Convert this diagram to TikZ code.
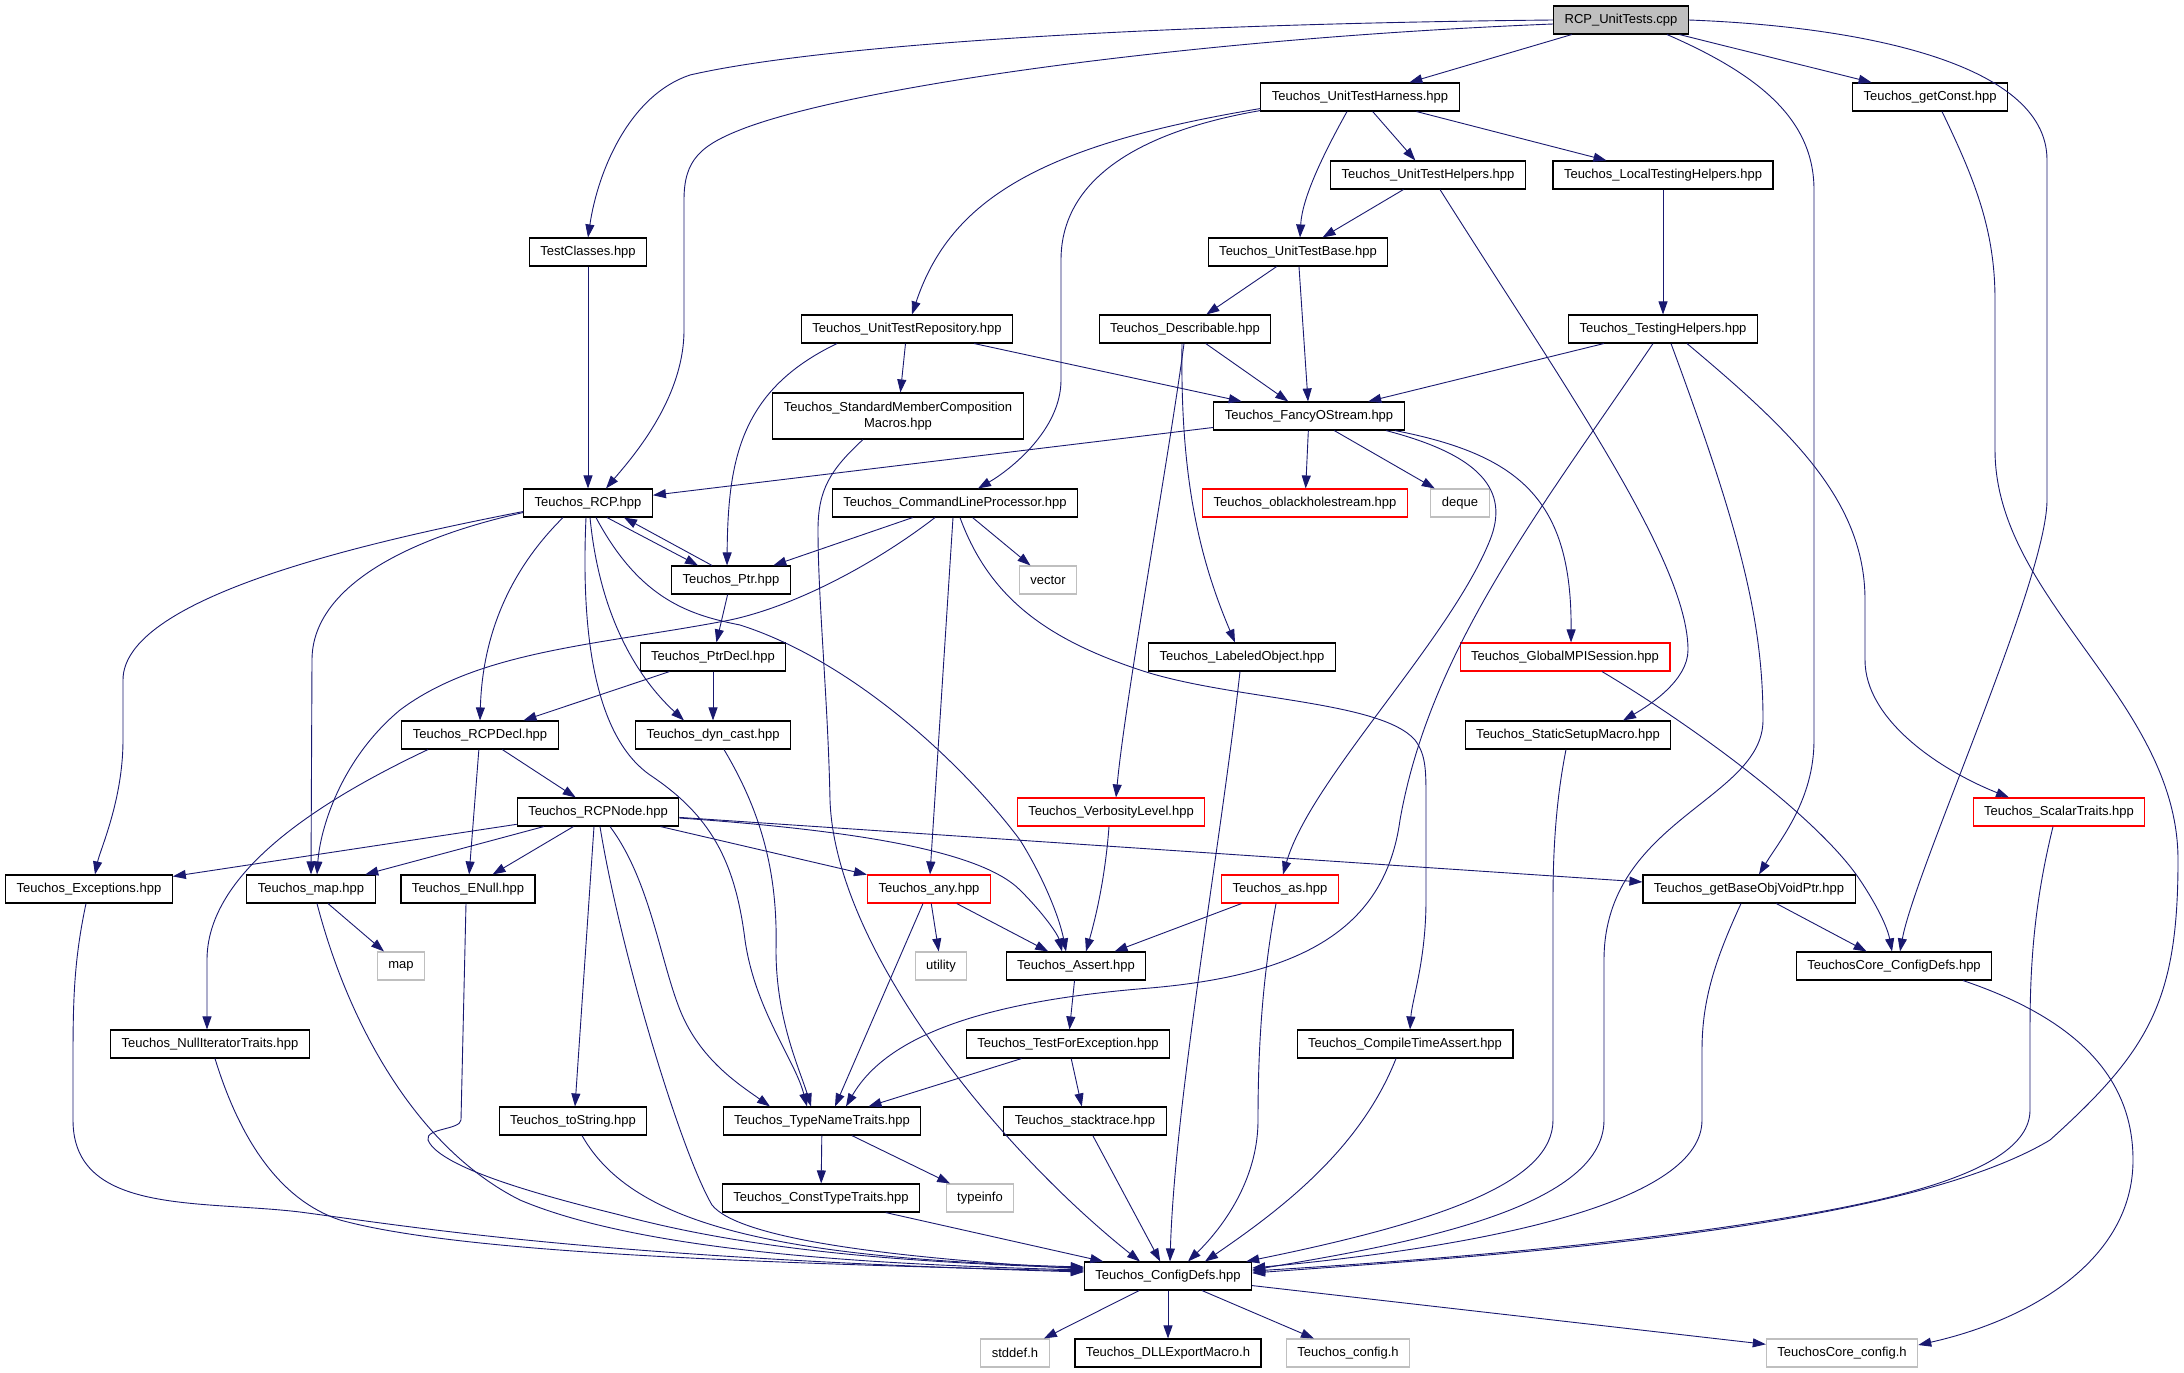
\documentclass[tikz,border=0pt]{standalone}
\usepackage{fontspec}
\setmainfont{Liberation Sans}
\usepackage{tikz}
\usetikzlibrary{arrows.meta}
\usepackage{xcolor}
\definecolor{depblue}{HTML}{191970}
\definecolor{filered}{HTML}{FF0000}
\definecolor{filegray}{HTML}{BFBFBF}
\tikzset{>={Triangle[length=13pt,width=9pt]}}
\tikzset{
  file/.style={draw=black, line width=1.1pt, fill=white, minimum height=28pt, inner xsep=11pt, inner ysep=0pt, font=\fontsize{13pt}{16pt}\selectfont},
  redfile/.style={file, draw=filered},
  sysfile/.style={file, draw=filegray},
  dep/.style={->, draw=depblue, line width=0.9pt}
}

\begin{document}
\begin{tikzpicture}[x=1pt, y=-1pt]
\fill[white] (0,0) rectangle (2184,1373);
\useasboundingbox (0,0) rectangle (2184,1373);
% files
\node[file, fill=filegray] (rcptests) at (1621,20) {RCP\_UnitTests.cpp};
\node[file] (harness) at (1360,97) {Teuchos\_UnitTestHarness.hpp};
\node[file] (getconst) at (1930,97) {Teuchos\_getConst.hpp};
\node[file] (uthelpers) at (1428,175) {Teuchos\_UnitTestHelpers.hpp};
\node[file] (localhelpers) at (1663,175) {Teuchos\_LocalTestingHelpers.hpp};
\node[file] (testclasses) at (588,252) {TestClasses.hpp};
\node[file] (utbase) at (1298,252) {Teuchos\_UnitTestBase.hpp};
\node[file] (utrepo) at (907,329) {Teuchos\_UnitTestRepository.hpp};
\node[file] (describable) at (1185,329) {Teuchos\_Describable.hpp};
\node[file] (testhelpers) at (1663,329) {Teuchos\_TestingHelpers.hpp};
\node[file, align=center, minimum height=46pt] (stdmember) at (898,416) {Teuchos\_StandardMemberComposition\\Macros.hpp};
\node[file] (fancy) at (1309,416) {Teuchos\_FancyOStream.hpp};
\node[file] (rcp) at (588,503) {Teuchos\_RCP.hpp};
\node[file] (clp) at (955,503) {Teuchos\_CommandLineProcessor.hpp};
\node[redfile] (blackhole) at (1305,503) {Teuchos\_oblackholestream.hpp};
\node[sysfile] (deque) at (1460,503) {deque};
\node[file] (ptr) at (731,580) {Teuchos\_Ptr.hpp};
\node[sysfile] (vector) at (1048,580) {vector};
\node[file] (ptrdecl) at (713,657) {Teuchos\_PtrDecl.hpp};
\node[file] (labeled) at (1242,657) {Teuchos\_LabeledObject.hpp};
\node[redfile] (mpisession) at (1565,657) {Teuchos\_GlobalMPISession.hpp};
\node[file] (rcpdecl) at (480,735) {Teuchos\_RCPDecl.hpp};
\node[file] (dyncast) at (713,735) {Teuchos\_dyn\_cast.hpp};
\node[file] (staticsetup) at (1568,735) {Teuchos\_StaticSetupMacro.hpp};
\node[file] (rcpnode) at (598,812) {Teuchos\_RCPNode.hpp};
\node[redfile] (verbosity) at (1111,812) {Teuchos\_VerbosityLevel.hpp};
\node[redfile] (scalar) at (2059,812) {Teuchos\_ScalarTraits.hpp};
\node[file] (exceptions) at (89,889) {Teuchos\_Exceptions.hpp};
\node[file] (maphpp) at (311,889) {Teuchos\_map.hpp};
\node[file] (enull) at (468,889) {Teuchos\_ENull.hpp};
\node[redfile] (any) at (929,889) {Teuchos\_any.hpp};
\node[redfile] (as) at (1280,889) {Teuchos\_as.hpp};
\node[file] (baseobj) at (1749,889) {Teuchos\_getBaseObjVoidPtr.hpp};
\node[sysfile] (map) at (401,966) {map};
\node[sysfile] (utility) at (941,966) {utility};
\node[file] (assert) at (1076,966) {Teuchos\_Assert.hpp};
\node[file] (coredefs) at (1894,966) {TeuchosCore\_ConfigDefs.hpp};
\node[file] (nulliter) at (210,1044) {Teuchos\_NullIteratorTraits.hpp};
\node[file] (testforexc) at (1068,1044) {Teuchos\_TestForException.hpp};
\node[file] (compiletime) at (1405,1044) {Teuchos\_CompileTimeAssert.hpp};
\node[file] (tostring) at (573,1121) {Teuchos\_toString.hpp};
\node[file] (typename) at (822,1121) {Teuchos\_TypeNameTraits.hpp};
\node[file] (stacktrace) at (1085,1121) {Teuchos\_stacktrace.hpp};
\node[file] (consttype) at (821,1198) {Teuchos\_ConstTypeTraits.hpp};
\node[sysfile] (typeinfo) at (980,1198) {typeinfo};
\node[file] (configdefs) at (1168,1276) {Teuchos\_ConfigDefs.hpp};
\node[sysfile] (stddef) at (1015,1353) {stddef.h};
\node[file] (dllexport) at (1168,1353) {Teuchos\_DLLExportMacro.h};
\node[sysfile] (config) at (1348,1353) {Teuchos\_config.h};
\node[sysfile] (coreconfig) at (1842,1353) {TeuchosCore\_config.h};
% includes
\draw[dep] (rcptests.west) .. controls (1150,24) and (820,45) .. (690,75) .. controls (630,95) and (598,170) .. (testclasses.north);
\draw[dep] ([yshift=-4pt]rcptests.west) .. controls (1200,38) and (860,85) .. (745,128) .. controls (700,145) and (684,160) .. (684,200) -- (684,330) .. controls (684,400) and (630,460) .. ([xshift=18pt]rcp.north);
\draw[dep] (rcptests) -- (harness);
\draw[dep] (rcptests) -- (getconst);
\draw[dep] ([xshift=46pt]rcptests.south) .. controls (1760,75) and (1814,120) .. (1814,190) -- (1814,740) .. controls (1814,800) and (1780,840) .. ([xshift=10pt]baseobj.north);
\draw[dep] (rcptests.east) .. controls (1850,26) and (2047,60) .. (2047,160) -- (2047,500) .. controls (2047,580) and (1915,870) .. ([xshift=6pt]coredefs.north);
\draw[dep] ([yshift=3pt]harness.south west) .. controls (1040,145) and (950,200) .. ([xshift=5pt]utrepo.north);
\draw[dep] ([yshift=1pt]harness.south west) .. controls (1120,135) and (1061,190) .. (1061,260) -- (1061,380) .. controls (1061,430) and (1010,470) .. ([xshift=23pt]clp.north);
\draw[dep] ([xshift=-13pt]harness.south) .. controls (1320,160) and (1302,200) .. ([xshift=2pt]utbase.north);
\draw[dep] (harness) -- (uthelpers);
\draw[dep] (harness) -- (localhelpers);
\draw[dep] (uthelpers) -- (utbase);
\draw[dep] ([xshift=12pt]uthelpers.south) .. controls (1560,380) and (1688,560) .. (1688,650) .. controls (1688,680) and (1650,705) .. ([xshift=55pt]staticsetup.north);
\draw[dep] (localhelpers) -- (testhelpers);
\draw[dep] (utbase) -- (describable);
\draw[dep] (utbase) -- (fancy);
\draw[dep] (utrepo) -- (stdmember);
\draw[dep] (utrepo) -- (fancy);
\draw[dep] ([xshift=-70pt]utrepo.south) .. controls (740,390) and (728,460) .. ([xshift=-4pt]ptr.north);
\draw[dep] (describable) -- (fancy);
\draw[dep] ([xshift=-3pt]describable.south) .. controls (1180,480) and (1200,560) .. ([xshift=-7pt]labeled.north);
\draw[dep] ([xshift=-1pt]describable.south) .. controls (1170,450) and (1125,700) .. ([xshift=5pt]verbosity.north);
\draw[dep] (testhelpers) -- (fancy);
\draw[dep] ([xshift=-10pt]testhelpers.south) .. controls (1540,510) and (1430,650) .. (1400,820) .. controls (1385,930) and (1300,975) .. (1150,988) .. controls (1000,1000) and (890,1030) .. ([xshift=24pt]typename.north);
\draw[dep] ([xshift=8pt]testhelpers.south) .. controls (1740,530) and (1763,620) .. (1763,720) .. controls (1763,800) and (1604,820) .. (1604,960) -- (1604,1120) .. controls (1604,1210) and (1400,1245) .. ([yshift=6pt]configdefs.east);
\draw[dep] ([xshift=24pt]testhelpers.south) .. controls (1790,430) and (1865,500) .. (1865,600) -- (1865,660) .. controls (1865,720) and (1940,770) .. ([xshift=-50pt]scalar.north);
\draw[dep] (fancy) -- (rcp);
\draw[dep] (fancy) -- (blackhole);
\draw[dep] (fancy) -- (deque);
\draw[dep] ([xshift=77pt]fancy.south) .. controls (1480,455) and (1510,490) .. (1490,540) .. controls (1450,640) and (1310,780) .. ([xshift=3pt]as.north);
\draw[dep] ([xshift=86pt]fancy.south) .. controls (1520,455) and (1572,500) .. ([xshift=6pt]mpisession.north);
\draw[dep] ([xshift=19pt]rcp.south) -- ([xshift=-33pt]ptr.north);
\draw[dep] ([xshift=-19pt]ptr.north) -- ([xshift=36pt]rcp.south);
\draw[dep] ([yshift=6pt]rcp.south west) .. controls (350,545) and (123,600) .. (123,680) -- (123,740) .. controls (123,800) and (100,850) .. ([xshift=6pt]exceptions.north);
\draw[dep] ([yshift=5pt]rcp.south west) .. controls (400,540) and (312,590) .. (312,660) -- (maphpp.north);
\draw[dep] ([xshift=-25pt]rcp.south) .. controls (500,580) and (482,650) .. (rcpdecl.north);
\draw[dep] ([xshift=-2pt]rcp.south) .. controls (580,650) and (600,740) .. (650,775) .. controls (710,815) and (735,860) .. (745,940) .. controls (755,1010) and (795,1060) .. ([xshift=-15pt]typename.north);
\draw[dep] ([xshift=2pt]rcp.south) .. controls (600,620) and (640,680) .. ([xshift=-29pt]dyncast.north);
\draw[dep] ([xshift=8pt]rcp.south) .. controls (640,600) and (690,615) .. (740,625) .. controls (850,660) and (960,760) .. (1020,840) .. controls (1045,880) and (1060,920) .. ([xshift=-10pt]assert.north);
\draw[dep] (clp) -- (ptr);
\draw[dep] ([xshift=-20pt]clp.south) .. controls (880,560) and (800,605) .. (730,620) .. controls (600,645) and (480,650) .. (400,710) .. controls (340,760) and (320,830) .. ([xshift=6pt]maphpp.north);
\draw[dep] ([xshift=-2pt]clp.south) -- ([xshift=1pt]any.north);
\draw[dep] (clp) -- (vector);
\draw[dep] ([xshift=5pt]clp.south) .. controls (990,600) and (1050,640) .. (1140,670) .. controls (1230,700) and (1380,700) .. (1415,740) .. controls (1426,755) and (1426,770) .. (1426,800) -- (1426,900) .. controls (1426,960) and (1412,1000) .. ([xshift=5pt]compiletime.north);
\draw[dep] (ptr) -- (ptrdecl);
\draw[dep] (ptrdecl) -- (rcpdecl);
\draw[dep] (ptrdecl) -- (dyncast);
\draw[dep] (rcpdecl) -- (enull);
\draw[dep] (rcpdecl) -- (rcpnode);
\draw[dep] ([xshift=-52pt]rcpdecl.south) .. controls (300,810) and (207,880) .. (207,960) -- ([xshift=-3pt]nulliter.north);
\draw[dep] ([xshift=11pt]dyncast.south) .. controls (760,810) and (778,870) .. (776,950) .. controls (776,1020) and (800,1070) .. ([xshift=-11pt]typename.north);
\draw[dep] (rcpnode) -- (exceptions);
\draw[dep] (rcpnode) -- (maphpp);
\draw[dep] (rcpnode) -- (enull);
\draw[dep] (rcpnode) -- (any);
\draw[dep] (rcpnode) -- (baseobj);
\draw[dep] ([yshift=-6pt]rcpnode.east) .. controls (850,830) and (980,850) .. (1020,890) .. controls (1045,915) and (1058,935) .. ([xshift=-14pt]assert.north);
\draw[dep] ([xshift=-4pt]rcpnode.south) -- ([xshift=2pt]tostring.north);
\draw[dep] ([xshift=2pt]rcpnode.south) .. controls (620,950) and (680,1150) .. (712,1205) .. controls (740,1240) and (900,1258) .. ([yshift=7pt]configdefs.west);
\draw[dep] ([xshift=12pt]rcpnode.south) .. controls (650,880) and (660,960) .. (680,1010) .. controls (700,1060) and (740,1085) .. ([xshift=-52pt]typename.north);
\draw[dep] ([xshift=-3pt]exceptions.south) .. controls (74,960) and (73,1000) .. (73,1060) -- (73,1120) .. controls (73,1215) and (200,1200) .. (300,1212) .. controls (420,1228) and (600,1258) .. ([yshift=4pt]configdefs.west);
\draw[dep] ([xshift=5pt]nulliter.south) .. controls (240,1140) and (280,1200) .. (340,1220) .. controls (450,1250) and (700,1262) .. ([yshift=5pt]configdefs.west);
\draw[dep] (maphpp) -- (map);
\draw[dep] ([xshift=6pt]maphpp.south) .. controls (350,1030) and (420,1150) .. (520,1200) .. controls (650,1255) and (900,1265) .. ([yshift=6pt]configdefs.west);
\draw[dep] ([xshift=-2pt]enull.south) -- (461,1120) .. controls (460,1130) and (425,1128) .. (428,1140) .. controls (440,1170) and (560,1200) .. (620,1215) .. controls (750,1250) and (900,1262) .. ([yshift=8pt]configdefs.west);
\draw[dep] ([xshift=9pt]tostring.south) .. controls (630,1220) and (760,1258) .. ([yshift=9pt]configdefs.west);
\draw[dep] (any) -- (utility);
\draw[dep] (any) -- (assert);
\draw[dep] ([xshift=-6pt]any.south) -- ([xshift=13pt]typename.north);
\draw[dep] (as) -- (assert);
\draw[dep] ([xshift=-4pt]as.south) .. controls (1262,980) and (1258,1050) .. (1258,1120) .. controls (1258,1190) and (1210,1240) .. ([xshift=20pt]configdefs.north);
\draw[dep] ([xshift=-2pt]verbosity.south) .. controls (1105,880) and (1095,920) .. ([xshift=10pt]assert.north);
\draw[dep] ([xshift=-2pt]labeled.south) .. controls (1220,850) and (1175,1100) .. ([xshift=2pt]configdefs.north);
\draw[dep] ([xshift=-35pt]stdmember.south) .. controls (830,470) and (818,490) .. (818,530) .. controls (818,600) and (828,700) .. (830,800) .. controls (835,950) and (1000,1150) .. ([xshift=-28pt]configdefs.north);
\draw[dep] (assert) -- (testforexc);
\draw[dep] (testforexc) -- (typename);
\draw[dep] (testforexc) -- (stacktrace);
\draw[dep] (stacktrace) -- (configdefs);
\draw[dep] ([xshift=-9pt]compiletime.south) .. controls (1360,1150) and (1280,1210) .. ([xshift=37pt]configdefs.north);
\draw[dep] (typename) -- (consttype);
\draw[dep] (typename) -- (typeinfo);
\draw[dep] (consttype) -- (configdefs);
\draw[dep] ([xshift=-8pt]baseobj.south) .. controls (1715,960) and (1702,1000) .. (1702,1050) -- (1702,1120) .. controls (1702,1200) and (1500,1245) .. ([yshift=8pt]configdefs.east);
\draw[dep] (baseobj) -- (coredefs);
\draw[dep] ([xshift=-6pt]scalar.south) .. controls (2035,900) and (2030,960) .. (2030,1030) -- (2030,1110) .. controls (2030,1180) and (1850,1210) .. (1690,1232) .. controls (1550,1250) and (1400,1262) .. ([yshift=5pt]configdefs.east);
\draw[dep] ([xshift=-2pt]staticsetup.south) .. controls (1556,800) and (1553,850) .. (1553,900) -- (1553,1120) .. controls (1553,1180) and (1450,1220) .. ([xshift=-6pt]configdefs.north east);
\draw[dep] ([xshift=12pt]getconst.south) .. controls (1975,180) and (1995,230) .. (1995,300) -- (1995,450) .. controls (1995,600) and (2178,700) .. (2178,860) .. controls (2178,1000) and (2150,1050) .. (2050,1140) .. controls (1900,1230) and (1500,1255) .. ([yshift=3pt]configdefs.east);
\draw[dep] (configdefs) -- (stddef);
\draw[dep] (configdefs) -- (dllexport);
\draw[dep] (configdefs) -- (config);
\draw[dep] (configdefs) -- (coreconfig);
\draw[dep] ([xshift=69pt]coredefs.south) .. controls (2080,1020) and (2133,1080) .. (2133,1160) .. controls (2133,1260) and (2030,1320) .. ([yshift=8pt]coreconfig.east);
\draw[dep] ([xshift=37pt]mpisession.south) .. controls (1700,730) and (1820,820) .. (1860,880) .. controls (1880,910) and (1888,930) .. ([xshift=-2pt]coredefs.north);
\draw[dep] (testclasses) -- (rcp);
\end{tikzpicture}
\end{document}
